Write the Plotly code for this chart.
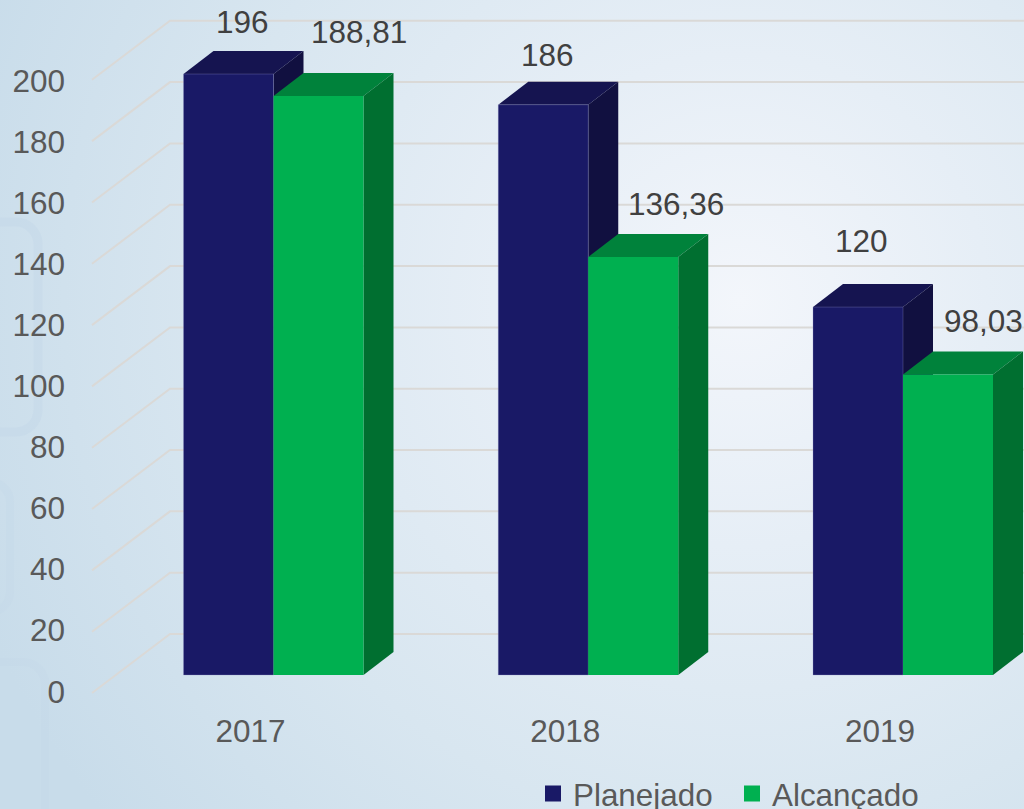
import base64
import plotly.graph_objects as go

categories = ["2017", "2018", "2019"]
planejado = [196, 186, 120]
alcancado = [188.81, 136.36, 98.03]
planejado_labels = ["196", "186", "120"]
alcancado_labels = ["188,81", "136,36", "98,03"]
y_ticks = list(range(0, 201, 20))

W, H = 1024, 809
PX_X = 314.75
PX_Y = 3.066
X0_PX = 273.5
Y0_PX = 675
BAR_W = 90 / PX_X
DX = 30 / PX_X
DY = 23 / PX_Y
FONT = "Liberation Sans, Arial, sans-serif"
positions = list(range(len(categories)))

svg = f'''<svg xmlns="http://www.w3.org/2000/svg" width="{W}" height="{H}">
<defs><radialGradient id="g" gradientUnits="userSpaceOnUse" cx="740" cy="300" r="820">
<stop offset="0" stop-color="#f3f6fb"/><stop offset="0.3" stop-color="#e6eef6"/>
<stop offset="0.65" stop-color="#d8e6f0"/><stop offset="1" stop-color="#c8dcea"/></radialGradient></defs>
<rect width="{W}" height="{H}" fill="url(#g)"/>
<rect x="-60" y="222" width="98" height="210" rx="22" fill="none" stroke="#c3d8e8" stroke-opacity="0.45" stroke-width="9"/>
<rect x="-60" y="482" width="70" height="130" rx="20" fill="none" stroke="#c3d8e8" stroke-opacity="0.3" stroke-width="8"/>
<rect x="-60" y="662" width="105" height="200" rx="22" fill="none" stroke="#c3d8e8" stroke-opacity="0.3" stroke-width="8"/>
</svg>'''
bg = "data:image/svg+xml;base64," + base64.b64encode(svg.encode()).decode()

fig = go.Figure()

# walls: gridlines run from the front edge of the side wall to the back wall
x_wall_front = (92 - X0_PX) / PX_X
x_wall_back = (170 - X0_PX) / PX_X
x_wall_right = (W - X0_PX) / PX_X
off_front = (Y0_PX - 693) / PX_Y
off_back = (Y0_PX - 634) / PX_Y
for t in y_ticks:
    fig.add_trace(go.Scatter(
        x=[x_wall_front, x_wall_back, x_wall_right],
        y=[t + off_front, t + off_back, t + off_back],
        mode="lines", line=dict(color="#dad9d7", width=2),
        showlegend=False, hoverinfo="skip", zorder=0, cliponaxis=False))


def prism(values, sign, top_col, side_col, z):
    for i, v in zip(positions, values):
        left = i - BAR_W if sign < 0 else i
        right = left + BAR_W
        fig.add_trace(go.Scatter(
            x=[left, right, right + DX, left + DX, left],
            y=[v, v, v + DY, v + DY, v],
            fill="toself", fillcolor=top_col, mode="lines", line=dict(width=0, color=top_col),
            showlegend=False, hoverinfo="skip", zorder=z))
        fig.add_trace(go.Scatter(
            x=[right, right + DX, right + DX, right, right],
            y=[0, DY, v + DY, v, 0],
            fill="toself", fillcolor=side_col, mode="lines", line=dict(width=0, color=side_col),
            showlegend=False, hoverinfo="skip", zorder=z))


prism(planejado, -1, "#151450", "#111040", 1)
prism(alcancado, 1, "#00823b", "#006f30", 2)

fig.add_trace(go.Bar(x=positions, y=planejado, name="Planejado",
                     marker=dict(color="#191966", line=dict(color="rgba(150,150,200,0.3)", width=1)),
                     showlegend=False, zorder=3))
fig.add_trace(go.Bar(x=positions, y=alcancado, name="Alcançado",
                     marker=dict(color="#00b050", line=dict(width=0)),
                     showlegend=False, zorder=3))

# legend entries; they also carry the value axis that prints the tick labels
fig.add_trace(go.Scatter(x=[None], y=[None], yaxis="y2", mode="markers", name="Planejado",
                         marker=dict(symbol="square", size=16, color="#191966")))
fig.add_trace(go.Scatter(x=[None], y=[None], yaxis="y2", mode="markers", name="Alcançado",
                         marker=dict(symbol="square", size=16, color="#00b050")))

shifts_p = [(13.5, 52), (4, 49.5), (3, 66)]
shifts_a = [(40, 64), (43, 52.5), (35, 53)]
for i in positions:
    for vals, labs, shifts, off in ((planejado, planejado_labels, shifts_p, -BAR_W / 2),
                                    (alcancado, alcancado_labels, shifts_a, BAR_W / 2)):
        fig.add_annotation(x=i + off, y=vals[i], text=labs[i], showarrow=False,
                           xref="x", yref="y", xanchor="center", yanchor="middle",
                           xshift=shifts[i][0], yshift=shifts[i][1],
                           font=dict(family=FONT, size=31.5, color="#404040"))

LBL_Y0 = 691.5
LBL_SCALE = 3.055

fig.update_layout(
    width=W, height=H, autosize=False,
    margin=dict(l=0, r=0, t=0, b=0, autoexpand=False),
    paper_bgcolor="#dce8f1", plot_bgcolor="rgba(0,0,0,0)",
    barmode="group", bargap=1 - 180 / PX_X, bargroupgap=0,
    images=[dict(source=bg, xref="paper", yref="paper", x=0, y=1, sizex=1, sizey=1,
                 xanchor="left", yanchor="top", sizing="stretch", layer="below")],
    xaxis=dict(range=[-X0_PX / PX_X, (W - X0_PX) / PX_X],
               tickvals=positions, ticktext=categories,
               showgrid=False, zeroline=False, showline=False, ticks="",
               anchor="free", position=(H - Y0_PX) / H,
               ticklabelstandoff=34, ticklabelshift=-23,
               tickfont=dict(family=FONT, size=31.5, color="#595959")),
    yaxis=dict(range=[-(H - Y0_PX) / PX_Y, Y0_PX / PX_Y],
               visible=False, showgrid=False, zeroline=False),
    yaxis2=dict(overlaying="y", side="left",
                range=[-(H - LBL_Y0) / LBL_SCALE, LBL_Y0 / LBL_SCALE], tickvals=y_ticks,
                ticktext=[str(t) for t in y_ticks],
                showgrid=False, zeroline=False, showline=False, ticks="",
                anchor="free", position=65 / W,
                tickfont=dict(family=FONT, size=31.5, color="#595959")),
    legend=dict(orientation="h", x=533 / W, xanchor="left", y=1 - 793.5 / H, yanchor="middle",
                font=dict(family=FONT, size=31.4, color="#595959"),
                bgcolor="rgba(0,0,0,0)", itemclick=False, itemdoubleclick=False,
                entrywidth=154, entrywidthmode="pixels",
                traceorder="normal", tracegroupgap=0),
    showlegend=True,
)
fig.write_html("out.html", config=dict(displayModeBar=False),
               post_script="document.body.style.margin='0';")
